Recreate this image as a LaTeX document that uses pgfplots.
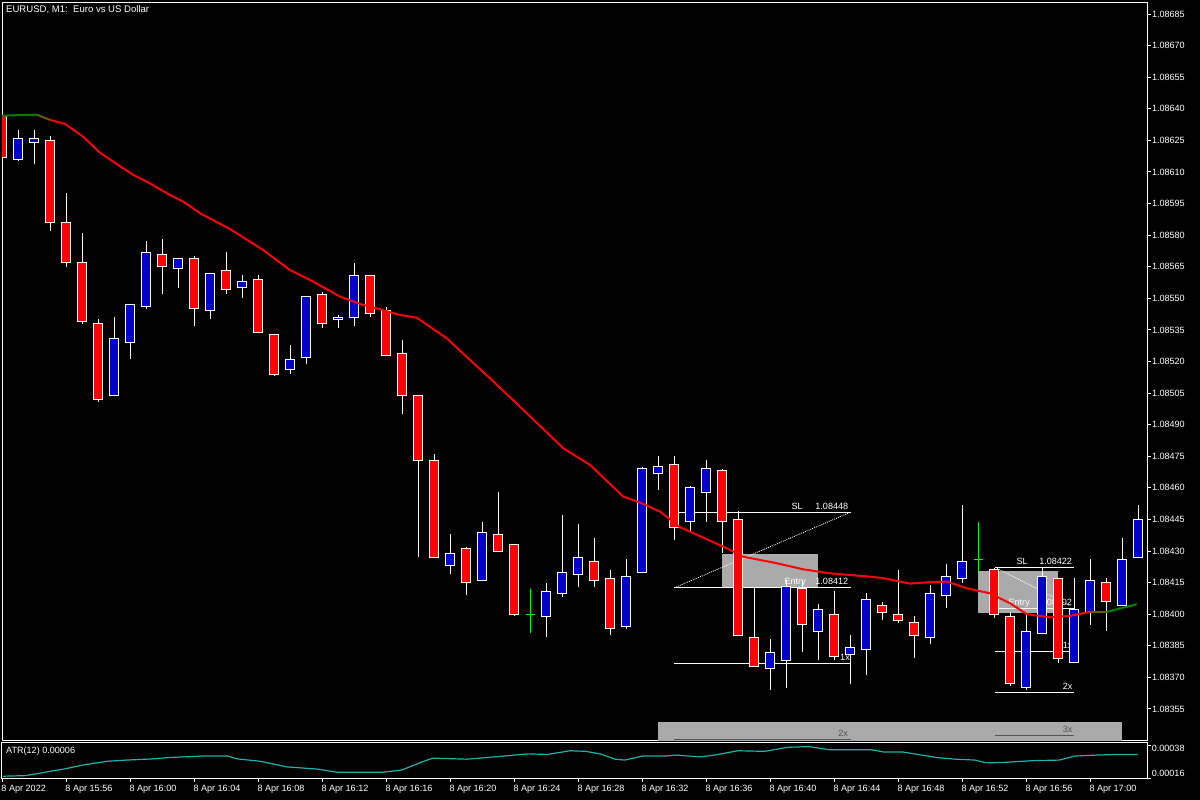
\documentclass[border=0pt]{standalone}
\usepackage{pgfplots}
\pgfplotsset{compat=1.18}
\usepackage{pgfplotstable}
\usepackage{fontspec}
\setmainfont{Liberation Sans}

\definecolor{bull}{RGB}{0,0,205}
\definecolor{bear}{RGB}{255,0,0}
\definecolor{doji}{RGB}{0,255,0}
\definecolor{mared}{RGB}{255,0,0}
\definecolor{magreen}{RGB}{0,128,0}
\definecolor{maolive}{RGB}{110,90,0}
\definecolor{objgrey}{RGB}{170,170,170}
\definecolor{objdark}{RGB}{85,85,85}
\definecolor{atrcol}{RGB}{32,178,170}

\newcommand\lbl{\fontsize{9.1}{10}\selectfont}

% prices are 1.08xxx: turn them into points above 1.08 as text, so TeX keeps full precision
\def\pricesplit#11.08#2e#3\relax{\def\pricefrac{#2000}}
\def\pricedigits#1#2#3#4\relax{\edef\pgfmathresult{#1#2#3.#40}}
\pgfplotsset{price axis/.style={y coord trafo/.code={%
  \edef\pricetmp{##1}%
  \expandafter\pricesplit\pricetmp e0]\relax
  \expandafter\pricedigits\pricefrac\relax}}}

% EURUSD M1, 15:52 .. 17:03  (t: 1 up, -1 down, 0 doji)
\pgfplotstableread{
k o h l c t
0 1.08637 1.08637 1.08617 1.08617 -1
1 1.08616 1.08630 1.08615 1.08626 1
2 1.08624 1.08630 1.08614 1.08626 1
3 1.08625 1.08627 1.08582 1.08586 -1
4 1.08586 1.08600 1.08565 1.08567 -1
5 1.08567 1.08581 1.08538 1.08539 -1
6 1.08538 1.08540 1.08501 1.08502 -1
7 1.08504 1.08541 1.08504 1.08531 1
8 1.08529 1.08547 1.08521 1.08547 1
9 1.08546 1.08577 1.08545 1.08572 1
10 1.08571 1.08578 1.08552 1.08565 -1
11 1.08564 1.08569 1.08555 1.08569 1
12 1.08569 1.08570 1.08537 1.08545 -1
13 1.08544 1.08562 1.08540 1.08562 1
14 1.08563 1.08572 1.08552 1.08554 -1
15 1.08555 1.08561 1.08550 1.08558 1
16 1.08559 1.08561 1.08534 1.08534 -1
17 1.08533 1.08533 1.08513 1.08514 -1
18 1.08516 1.08528 1.08514 1.08521 1
19 1.08522 1.08551 1.08519 1.08551 1
20 1.08552 1.08553 1.08536 1.08538 -1
21 1.08540 1.08542 1.08536 1.08541 1
22 1.08541 1.08567 1.08537 1.08561 1
23 1.08561 1.08561 1.08541 1.08543 -1
24 1.08544 1.08546 1.08523 1.08523 -1
25 1.08524 1.08530 1.08495 1.08504 -1
26 1.08504 1.08504 1.08427 1.08473 -1
27 1.08473 1.08476 1.08427 1.08427 -1
28 1.08423 1.08438 1.08419 1.08429 1
29 1.08431 1.08432 1.08409 1.08415 -1
30 1.08416 1.08444 1.08416 1.08439 1
31 1.08438 1.08458 1.08430 1.08430 -1
32 1.08433 1.08433 1.08399 1.08400 -1
33 1.08400 1.08412 1.08391 1.08400 0
34 1.08399 1.08415 1.08389 1.08411 1
35 1.08410 1.08447 1.08408 1.08420 1
36 1.08419 1.08443 1.08413 1.08427 1
37 1.08425 1.08436 1.08413 1.08416 -1
38 1.08417 1.08421 1.08390 1.08393 -1
39 1.08394 1.08426 1.08393 1.08418 1
40 1.08420 1.08470 1.08420 1.08469 1
41 1.08467 1.08475 1.08459 1.08470 1
42 1.08471 1.08475 1.08435 1.08441 -1
43 1.08444 1.08461 1.08439 1.08460 1
44 1.08458 1.08473 1.08444 1.08469 1
45 1.08468 1.08469 1.08429 1.08444 -1
46 1.08445 1.08449 1.08390 1.08390 -1
47 1.08389 1.08413 1.08375 1.08375 -1
48 1.08374 1.08388 1.08364 1.08382 1
49 1.08378 1.08416 1.08365 1.08413 1
50 1.08412 1.08416 1.08382 1.08395 -1
51 1.08392 1.08405 1.08378 1.08402 1
52 1.08400 1.08411 1.08378 1.08380 -1
53 1.08381 1.08390 1.08367 1.08384 1
54 1.08383 1.08410 1.08371 1.08407 1
55 1.08404 1.08406 1.08397 1.08401 -1
56 1.08400 1.08421 1.08396 1.08397 -1
57 1.08396 1.08399 1.08379 1.08390 -1
58 1.08389 1.08414 1.08386 1.08410 1
59 1.08409 1.08424 1.08403 1.08418 1
60 1.08417 1.08452 1.08415 1.08425 1
61 1.08426 1.08444 1.08420 1.08426 0
62 1.08421 1.08422 1.08398 1.08400 -1
63 1.08399 1.08401 1.08366 1.08367 -1
64 1.08365 1.08400 1.08364 1.08392 1
65 1.08391 1.08422 1.08391 1.08418 1
66 1.08417 1.08417 1.08377 1.08379 -1
67 1.08377 1.08417 1.08377 1.08402 1
68 1.08401 1.08426 1.08395 1.08416 1
69 1.08415 1.08417 1.08392 1.08406 -1
70 1.08404 1.08436 1.08404 1.08426 1
71 1.08427 1.08452 1.08427 1.08445 1
}\ohlc

\begin{document}
\begin{tikzpicture}
\fill[black] (0,0) rectangle (1200bp,800bp);

% ---- price panel
\begin{axis}[
    at={(2bp,59.7bp)}, anchor=south west,
    scale only axis, width=1145.3bp, height=738bp,
    xmin=-0.01875, xmax=71.5625,
    price axis,
    ymin=1.083401, ymax=1.086906,
    axis line style={white, line width=1bp},
    xtick=\empty,
    ytick pos=right,
    ytick={1.08355,1.08370,1.08385,1.08400,1.08415,1.08430,1.08445,1.08460,1.08475,1.08490,1.08505,1.08520,1.08535,1.08550,1.08565,1.08580,1.08595,1.08610,1.08625,1.08640,1.08655,1.08670,1.08685},
    yticklabels={1.08355,1.08370,1.08385,1.08400,1.08415,1.08430,1.08445,1.08460,1.08475,1.08490,1.08505,1.08520,1.08535,1.08550,1.08565,1.08580,1.08595,1.08610,1.08625,1.08640,1.08655,1.08670,1.08685},
    tick align=outside, major tick length=3.5bp,
    tick style={white, line width=1bp},
    yticklabel style={white, font=\lbl, anchor=west, inner sep=0pt, xshift=1bp},
    clip=true,
]
% background objects of the two trades
\addplot[fill=objgrey, draw=none] coordinates {(40.98,1.083488) (69.98,1.083488) (69.98,1.08330) (40.98,1.08330)} --cycle;
\addplot[fill=objgrey, draw=none] coordinates {(44.98,1.084125) (50.98,1.084125) (50.98,1.084286) (44.98,1.084286)} --cycle;
\addplot[fill=objgrey, draw=none] coordinates {(60.98,1.084007) (66.0,1.084007) (66.0,1.084205) (60.98,1.084205)} --cycle;

\addplot[objdark, line width=1bp] coordinates {(42.0,1.083406) (53.04,1.083406)};
\addplot[objdark, line width=1bp] coordinates {(62.06,1.083422) (67.0,1.083422)};

\addplot[white, line width=1bp] coordinates {(42.0,1.084485) (53.04,1.084485)};
\addplot[white, line width=1bp] coordinates {(42.0,1.084125) (53.04,1.084125)};
\addplot[white, line width=1bp] coordinates {(42.0,1.083767) (53.04,1.083767)};
\addplot[white, line width=0.8bp, dash pattern=on 1bp off 1bp] coordinates {(42.0,1.084125) (53.04,1.084485)};

\addplot[white, line width=1bp] coordinates {(62.06,1.084222) (67.0,1.084222)};
\addplot[white, line width=1bp] coordinates {(62.06,1.084025) (67.0,1.084025)};
\addplot[white, line width=1bp] coordinates {(62.06,1.083824) (67.0,1.083824)};
\addplot[white, line width=1bp] coordinates {(62.06,1.083626) (67.0,1.083626)};
\addplot[white, line width=0.8bp, dash pattern=on 1bp off 1bp] coordinates {(62.06,1.084222) (66.75,1.084040)};

\begin{scope}[every node/.style={font=\lbl, inner sep=0pt, anchor=base east, yshift=3bp}]
\node[white] at (axis cs:50.04,1.084485) {SL};
\node[white] at (axis cs:52.88,1.084485) {1.08448};
\node[white] at (axis cs:50.23,1.084125) {Entry};
\node[white] at (axis cs:52.88,1.084125) {1.08412};
\node[white] at (axis cs:52.98,1.083767) {1x};
\node[objdark] at (axis cs:52.86,1.083406) {2x};
\node[white] at (axis cs:64.1,1.084222) {SL};
\node[white] at (axis cs:66.87,1.084222) {1.08422};
\node[white] at (axis cs:64.23,1.084025) {Entry};
\node[white] at (axis cs:66.87,1.084025) {1.08402};
\node[white] at (axis cs:66.9,1.083824) {1x};
\node[white] at (axis cs:66.9,1.083626) {2x};
\node[objdark] at (axis cs:66.9,1.083422) {3x};
\end{scope}

% candles
\foreach \i in {0,...,71}{
  \pgfplotstablegetelem{\i}{o}\of\ohlc \let\vo\pgfplotsretval
  \pgfplotstablegetelem{\i}{h}\of\ohlc \let\vh\pgfplotsretval
  \pgfplotstablegetelem{\i}{l}\of\ohlc \let\vl\pgfplotsretval
  \pgfplotstablegetelem{\i}{c}\of\ohlc \let\vc\pgfplotsretval
  \pgfplotstablegetelem{\i}{t}\of\ohlc \let\vt\pgfplotsretval
  \pgfmathsetmacro{\xa}{\i-0.29}
  \pgfmathsetmacro{\xb}{\i+0.29}
  \ifnum\vt=0
    \edef\tmp{\noexpand\addplot[doji, line width=1bp] coordinates {(\i,\vl) (\i,\vh)};
      \noexpand\addplot[doji, line width=1bp] coordinates {(\xa,\vo) (\xb,\vo)};}
  \else
    \ifnum\vt>0 \def\fc{bull}\else\def\fc{bear}\fi
    \edef\tmp{\noexpand\addplot[white, line width=1bp] coordinates {(\i,\vl) (\i,\vh)};
      \noexpand\addplot[fill=\fc, draw=white, line width=1bp] coordinates {(\xa,\vo) (\xb,\vo) (\xb,\vc) (\xa,\vc)} --cycle;}
  \fi
  \tmp
}

% moving average
\addplot[magreen, line width=2bp] coordinates {(-0.14,1.086367) (0.98,1.086370) (2.17,1.086372)};
\addplot[maolive, line width=2bp] coordinates {(2.17,1.086372) (3.0,1.086347)};
\addplot[mared, line width=2bp] coordinates {
(3.0,1.086347) (3.92,1.086328) (5.06,1.086267) (6.11,1.086191) (7.15,1.086138)
(8.19,1.086086) (9.23,1.086046) (10.28,1.085999) (11.31,1.085959) (12.36,1.085904)
(14.34,1.085824) (16.31,1.085729) (17.98,1.085634) (19.44,1.085579) (21.11,1.085508)
(22.36,1.085473) (23.61,1.085448) (24.86,1.085421) (25.9,1.085408) (27.78,1.085310)
(29.23,1.085207) (30.48,1.085120) (32.56,1.084970) (35.06,1.084788) (36.73,1.084709)
(38.81,1.084558) (39.86,1.084530) (41.11,1.084487) (42.36,1.084413) (45.28,1.084313)
(46.31,1.084273) (48.4,1.084242) (50.06,1.084213) (51.73,1.084194) (54.23,1.084178)
(55.06,1.084171) (56.73,1.084145) (57.56,1.084150) (59.03,1.084155) (60.28,1.084123)
(61.73,1.084099) (62.98,1.084052) (64.03,1.084000) (65.48,1.083985) (66.73,1.083992)
(67.98,1.084011)};
\addplot[maolive, line width=2bp] coordinates {(67.98,1.084011) (69.03,1.084011)};
\addplot[magreen, line width=2bp] coordinates {(69.03,1.084011) (70.9,1.084047)};
\end{axis}

% ---- ATR panel
\begin{axis}[
    at={(2bp,21.7bp)}, anchor=south west,
    scale only axis, width=1145.3bp, height=36bp,
    xmin=-0.01875, xmax=71.5625,
    ymin=0.00016, ymax=0.000403,
    axis line style={white, line width=1bp},
    xtick pos=bottom, ytick pos=right,
    xtick={0,4,...,68},
    xticklabels={8 Apr 2022,8 Apr 15:56,8 Apr 16:00,8 Apr 16:04,8 Apr 16:08,8 Apr 16:12,8 Apr 16:16,8 Apr 16:20,8 Apr 16:24,8 Apr 16:28,8 Apr 16:32,8 Apr 16:36,8 Apr 16:40,8 Apr 16:44,8 Apr 16:48,8 Apr 16:52,8 Apr 16:56,8 Apr 17:00},
    ytick={0.00016,0.00038},
    yticklabels={\raisebox{1.5bp}{0.00016},\raisebox{-5.5bp}{0.00038}},
    scaled y ticks=false,
    tick align=outside, major tick length=3.3bp,
    tick style={white, line width=1bp},
    xticklabel style={white, font=\lbl, anchor=north west, inner sep=0pt, xshift=-1bp, yshift=-3bp},
    yticklabel style={white, font=\lbl, anchor=base west, inner sep=0pt, xshift=1bp},
]
\addplot[atrcol, line width=1.2bp] coordinates {
(0.03,0.000174) (1.41,0.000178) (2.13,0.000190) (2.97,0.000207) (3.92,0.000224)
(5.12,0.000251) (6.56,0.000275) (7.75,0.000283) (9.42,0.000291) (10.38,0.000300)
(12.53,0.000310) (14.09,0.000310) (14.69,0.000291) (16.12,0.000275) (17.79,0.000237)
(19.71,0.000222) (20.91,0.000201) (22.34,0.000201) (23.78,0.000201) (24.97,0.000216)
(26.17,0.000268) (26.89,0.000296) (29.04,0.000289) (30.71,0.000304) (32.86,0.000325)
(34.06,0.000321) (35.49,0.000346) (36.45,0.000342) (37.36,0.000325) (38.31,0.000289)
(38.91,0.000283) (39.99,0.000310) (41.43,0.000310) (42.14,0.000317) (43.58,0.000304)
(44.53,0.000317) (45.97,0.000346) (47.64,0.000342) (49.08,0.000369) (50.39,0.000374)
(51.71,0.000353) (52.66,0.000353) (54.34,0.000353) (55.06,0.000338) (56.25,0.000338)
(57.45,0.000317) (58.41,0.000300) (59.6,0.000289) (60.79,0.000283) (61.51,0.000264)
(62.71,0.000268) (64.39,0.000279) (66.06,0.000283) (67.02,0.000310) (68.45,0.000317)
(69.64,0.000321) (70.96,0.000321)};
\end{axis}

\node[white, font=\fontsize{9.6}{11}\selectfont, anchor=west, inner sep=0pt] at (6bp,790bp) {EURUSD, M1:\ \ Euro vs US Dollar};
\node[white, font=\lbl, anchor=west, inner sep=0pt] at (6bp,49bp) {ATR(12) 0.00006};
\end{tikzpicture}
\end{document}
